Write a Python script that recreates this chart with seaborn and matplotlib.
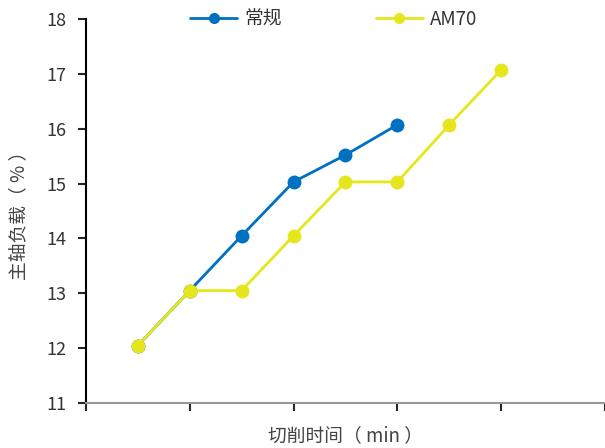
import pandas as pd
import matplotlib
matplotlib.use('Agg')
import matplotlib.pyplot as plt
import seaborn as sns

# data
x_normal = [0.5, 1.0, 1.5, 2.0, 2.5, 3.0]
y_normal = [12.05, 13.05, 14.05, 15.03, 15.52, 16.07]
x_am70 = [0.5, 1.0, 1.5, 2.0, 2.5, 3.0, 3.5, 4.0]
y_am70 = [12.05, 13.05, 13.05, 14.05, 15.03, 15.03, 16.07, 17.07]
series_names = ['常规', 'AM70']

df = pd.concat([
    pd.DataFrame({'t': x_normal, 'load': y_normal, 'series': series_names[0]}),
    pd.DataFrame({'t': x_am70, 'load': y_am70, 'series': series_names[1]}),
])

sns.set_style('white')
plt.rcParams['font.family'] = ['Noto Sans CJK SC', 'DejaVu Sans']

fig = plt.figure(figsize=(6.05, 4.48), dpi=100)
ax = fig.add_axes([0.142, 0.1, 0.858, 0.858])

colors = {'常规': '#0070C0', 'AM70': '#E6E61C'}
sns.lineplot(data=df, x='t', y='load', hue='series', palette=colors,
             marker='o', markersize=10, markeredgewidth=0, linewidth=2,
             ax=ax, sort=False)

ax.set_xlim(0, 5)
ax.set_ylim(11, 18)
ax.set_yticks(range(11, 19))
ax.set_xticks([0, 1, 2, 3, 4, 5])
ax.set_xticklabels([])
ax.tick_params(axis='y', direction='out', length=6, width=1.5, left=True,
               labelsize=13, labelcolor='#333333', pad=8)
ax.tick_params(axis='x', direction='out', length=6, width=1.5, bottom=True)

for s in ['top', 'right']:
    ax.spines[s].set_visible(False)
ax.spines['left'].set_color('black')
ax.spines['left'].set_linewidth(1.5)
ax.spines['bottom'].set_color('#999999')
ax.spines['bottom'].set_linewidth(1.5)

ax.set_xlabel('切削时间（ min ）', fontsize=13.5, color='#444444', labelpad=6)
ax.set_ylabel('主轴负载（ % ）', fontsize=13.5, color='#444444', labelpad=12)

ax.legend(loc='upper center', bbox_to_anchor=(0.478, 1.07), ncol=2,
          frameon=False, fontsize=13.5, handlelength=2.5, columnspacing=5,
          handletextpad=0.4, markerscale=0.8, labelcolor='#333333')

fig.savefig('out.png', dpi=100)
